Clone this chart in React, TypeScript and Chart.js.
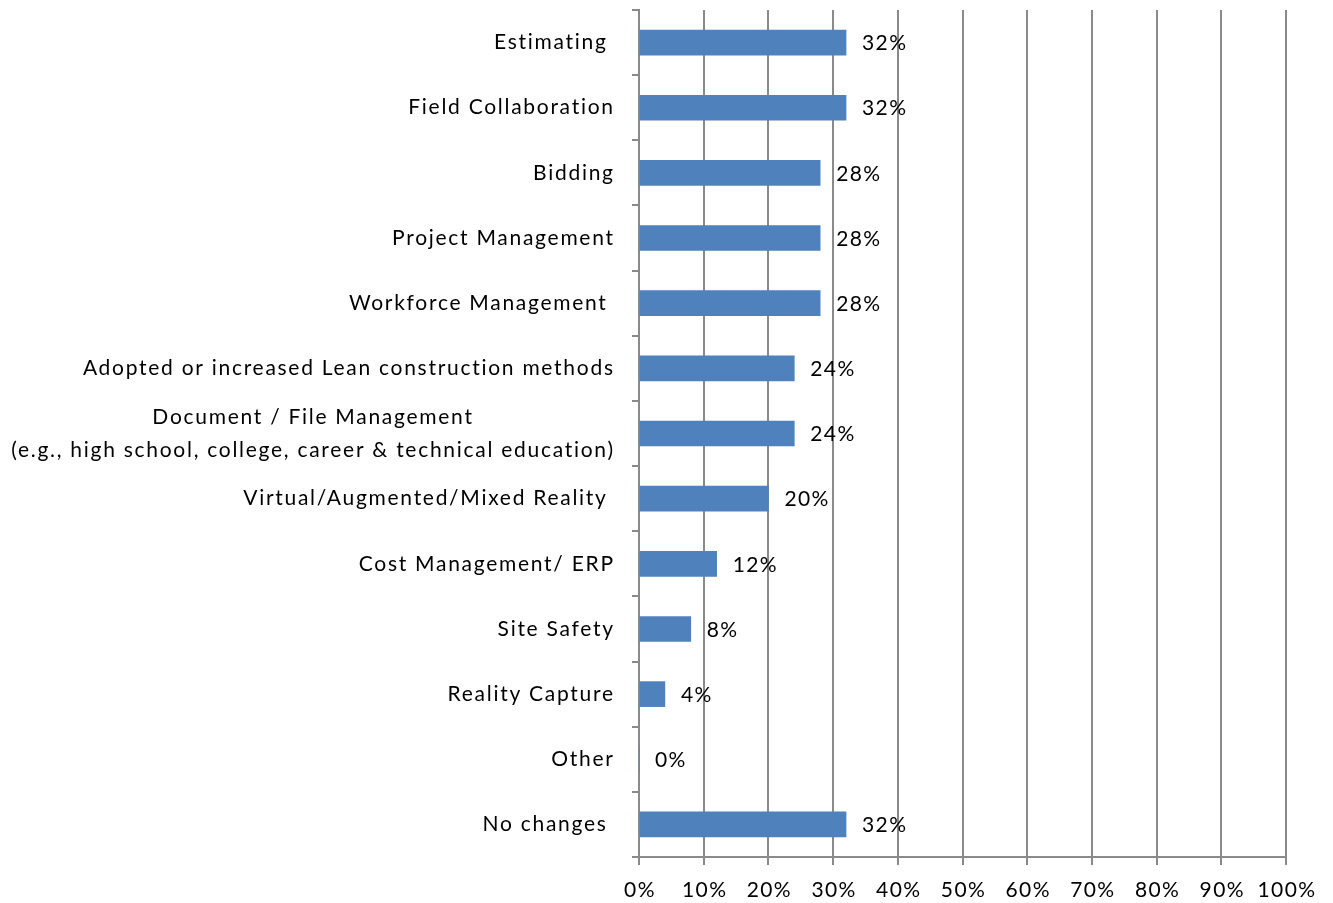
import React, { useEffect, useRef } from "react";
import { Chart, registerables } from "chart.js";

Chart.register(...registerables);

const categories: string[][] = [
  ["Estimating "],
  ["Field Collaboration"],
  ["Bidding"],
  ["Project Management"],
  ["Workforce Management "],
  ["Adopted or increased Lean construction methods"],
  ["Document / File Management", "(e.g., high school, college, career & technical education)"],
  ["Virtual/Augmented/Mixed Reality "],
  ["Cost Management/ ERP"],
  ["Site Safety"],
  ["Reality Capture"],
  ["Other"],
  ["No changes "],
];
const values: number[] = [32, 32, 28, 28, 28, 24, 24, 20, 12, 8, 4, 0, 32];
const xTicks: number[] = [0, 10, 20, 30, 40, 50, 60, 70, 80, 90, 100];

const FONT = "Lato, 'Open Sans', sans-serif";
const FONT_SIZE = 21;
const GRID = "#8a8a8a";

export default function App() {
  const ref = useRef<HTMLCanvasElement | null>(null);
  useEffect(() => {
    document.body.style.margin = "0";
    const canvas = ref.current!;
    const labelsPlugin = {
      id: "customLabels",
      afterDatasetsDraw(chart: any) {
        const ctx = chart.ctx;
        const xs = chart.scales.x;
        const ys = chart.scales.y;
        ctx.save();
        ctx.fillStyle = "#000";
        ctx.font = `${FONT_SIZE}px ${FONT}`;
        ctx.textBaseline = "middle";
        // number labels
        ctx.letterSpacing = "1.4px";
        ctx.textAlign = "left";
        values.forEach((v, i) => {
          const x = xs.getPixelForValue(v) + 16;
          const y = ys.getPixelForValue(i);
          ctx.fillText(`${v}%`, x, y + 1);
        });
        ctx.textAlign = "center";
        xTicks.forEach((v) => {
          const x = xs.getPixelForValue(v) + 1;
          ctx.fillText(`${v}%`, x, xs.bottom - 13);
        });
        // category labels
        ctx.letterSpacing = "0px";
        const ref = "Adopted or increased Lean construction methods";
        const w0 = ctx.measureText(ref).width;
        const ls = Math.max(0, (532 - w0) / ref.length);
        ctx.letterSpacing = `${ls.toFixed(2)}px`;
        const right = ys.right - 26 + ls;
        categories.forEach((lines, i) => {
          const y = ys.getPixelForValue(i);
          const lh = 33;
          if (lines.length === 1) {
            ctx.textAlign = "right";
            ctx.fillText(lines[0], right, y);
          } else {
            const widths = lines.map((l) => ctx.measureText(l).width);
            const wMax = Math.max(...widths);
            ctx.textAlign = "left";
            lines.forEach((l, k) => {
              const x = right - wMax + (wMax - widths[k]) / 2;
              ctx.fillText(l, x, y + (k - (lines.length - 1) / 2) * lh);
            });
          }
        });
        ctx.restore();
      },
    };
    const chart = new Chart(canvas, {
      type: "bar",
      data: {
        labels: categories.map((c) => c.join(" ")),
        datasets: [
          {
            data: values,
            backgroundColor: "#4F81BD",
            barThickness: 25,
          },
        ],
      },
      options: {
        indexAxis: "y",
        animation: false,
        responsive: false,
        maintainAspectRatio: false,
        layout: { padding: { top: 10, right: 47, left: 0, bottom: 0 } },
        plugins: { legend: { display: false }, tooltip: { enabled: false } },
        scales: {
          x: {
            min: 0,
            max: 100,
            afterBuildTicks: (scale: any) => {
              scale.ticks = xTicks.map((v) => ({ value: v }));
            },
            afterFit: (scale: any) => {
              scale.height = 46;
            },
            ticks: { display: false },
            grid: { color: GRID, lineWidth: 2, tickLength: 8, drawOnChartArea: true },
            border: { color: GRID, width: 2 },
          },
          y: {
            afterFit: (scale: any) => {
              scale.width = 639;
            },
            ticks: { display: false },
            grid: {
              offset: true,
              drawOnChartArea: false,
              color: GRID,
              lineWidth: 2,
              tickLength: 7,
            },
            border: { color: GRID, width: 2 },
          },
        },
      },
      plugins: [labelsPlugin],
    } as any);
    return () => chart.destroy();
  }, []);
  return <canvas ref={ref} width={1333} height={903} style={{ display: "block" }} />;
}
